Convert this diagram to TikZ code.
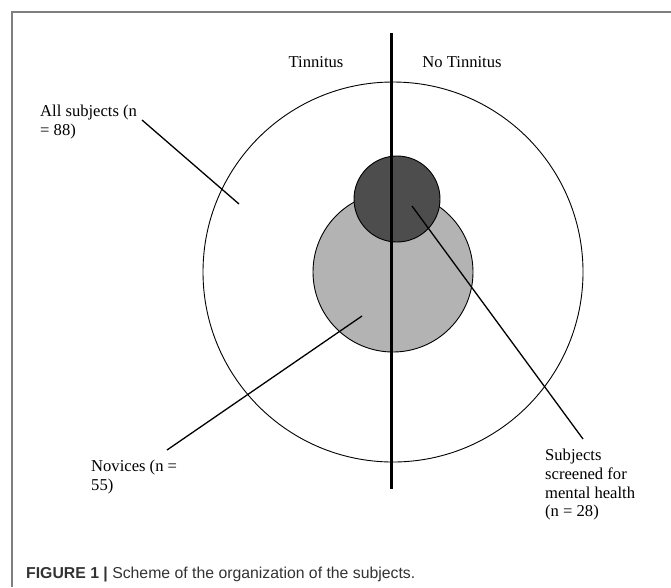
\documentclass[tikz,border=0pt]{standalone}
\usepackage{fontspec}
\setmainfont{Liberation Serif}
\newfontfamily\capfont{Liberation Sans}
\definecolor{framegray}{HTML}{7F7F7F}
\definecolor{lightfill}{HTML}{B3B3B3}
\definecolor{darkfill}{HTML}{4D4D4D}
\definecolor{captext}{HTML}{333333}
\begin{document}
\begin{tikzpicture}[x=1pt,y=-1pt,
  lbl/.style={font=\fontsize{16.6}{18.7}\selectfont, inner sep=0pt, align=left},
  ring/.style={circle, draw=black, line width=0.9pt, inner sep=0pt},
  leader/.style={draw=black, line width=1.3pt},
  divider/.style={draw=black, line width=3pt}]
\useasboundingbox (0,0) rectangle (671,587);
\fill[white] (0,0) rectangle (671,587);
% frame
\draw[framegray, line width=1.6pt] (12,587) -- (12,12) -- (672,12);
% circles
\node[ring, fill=white, minimum size=380pt] (all) at (393,272) {};
\node[ring, fill=lightfill, minimum size=160pt] (nov) at (393,272) {};
\node[ring, fill=darkfill, minimum size=86pt] (scr) at (397,199) {};
% divider
\coordinate (dtop) at (391,33);
\coordinate (dbot) at (391,489);
\draw[divider] (dtop) -- (dbot);
% headings
\node[lbl, anchor=base] (tin) at (316,67) {Tinnitus};
\node[lbl, anchor=base] (notin) at (462,67) {No Tinnitus};
% labels
\node[lbl, anchor=north west] (allL) at (40,105) {All subjects (n\\= 88)};
\node[lbl, anchor=north west] (novL) at (91,460) {Novices (n =\\55)};
\node[lbl, anchor=north west] (scrL) at (545,449) {Subjects\\screened for\\mental health\\(n = 28)};
% leader lines
\coordinate (a1) at (142,120);
\coordinate (a2) at (239,204);
\coordinate (n1) at (167,450);
\coordinate (n2) at (362,316);
\coordinate (s1) at (412,206);
\coordinate (s2) at (583,439);
\draw[leader] (a1) -- (a2);
\draw[leader] (n1) -- (n2);
\draw[leader] (s1) -- (s2);
% caption
\node[anchor=base west, inner sep=0pt, text=captext, font=\capfont\fontsize{15.8}{18}\selectfont] (cap) at (26,578) {\textbf{FIGURE 1 |} Scheme of the organization of the subjects.};
\end{tikzpicture}
\end{document}
